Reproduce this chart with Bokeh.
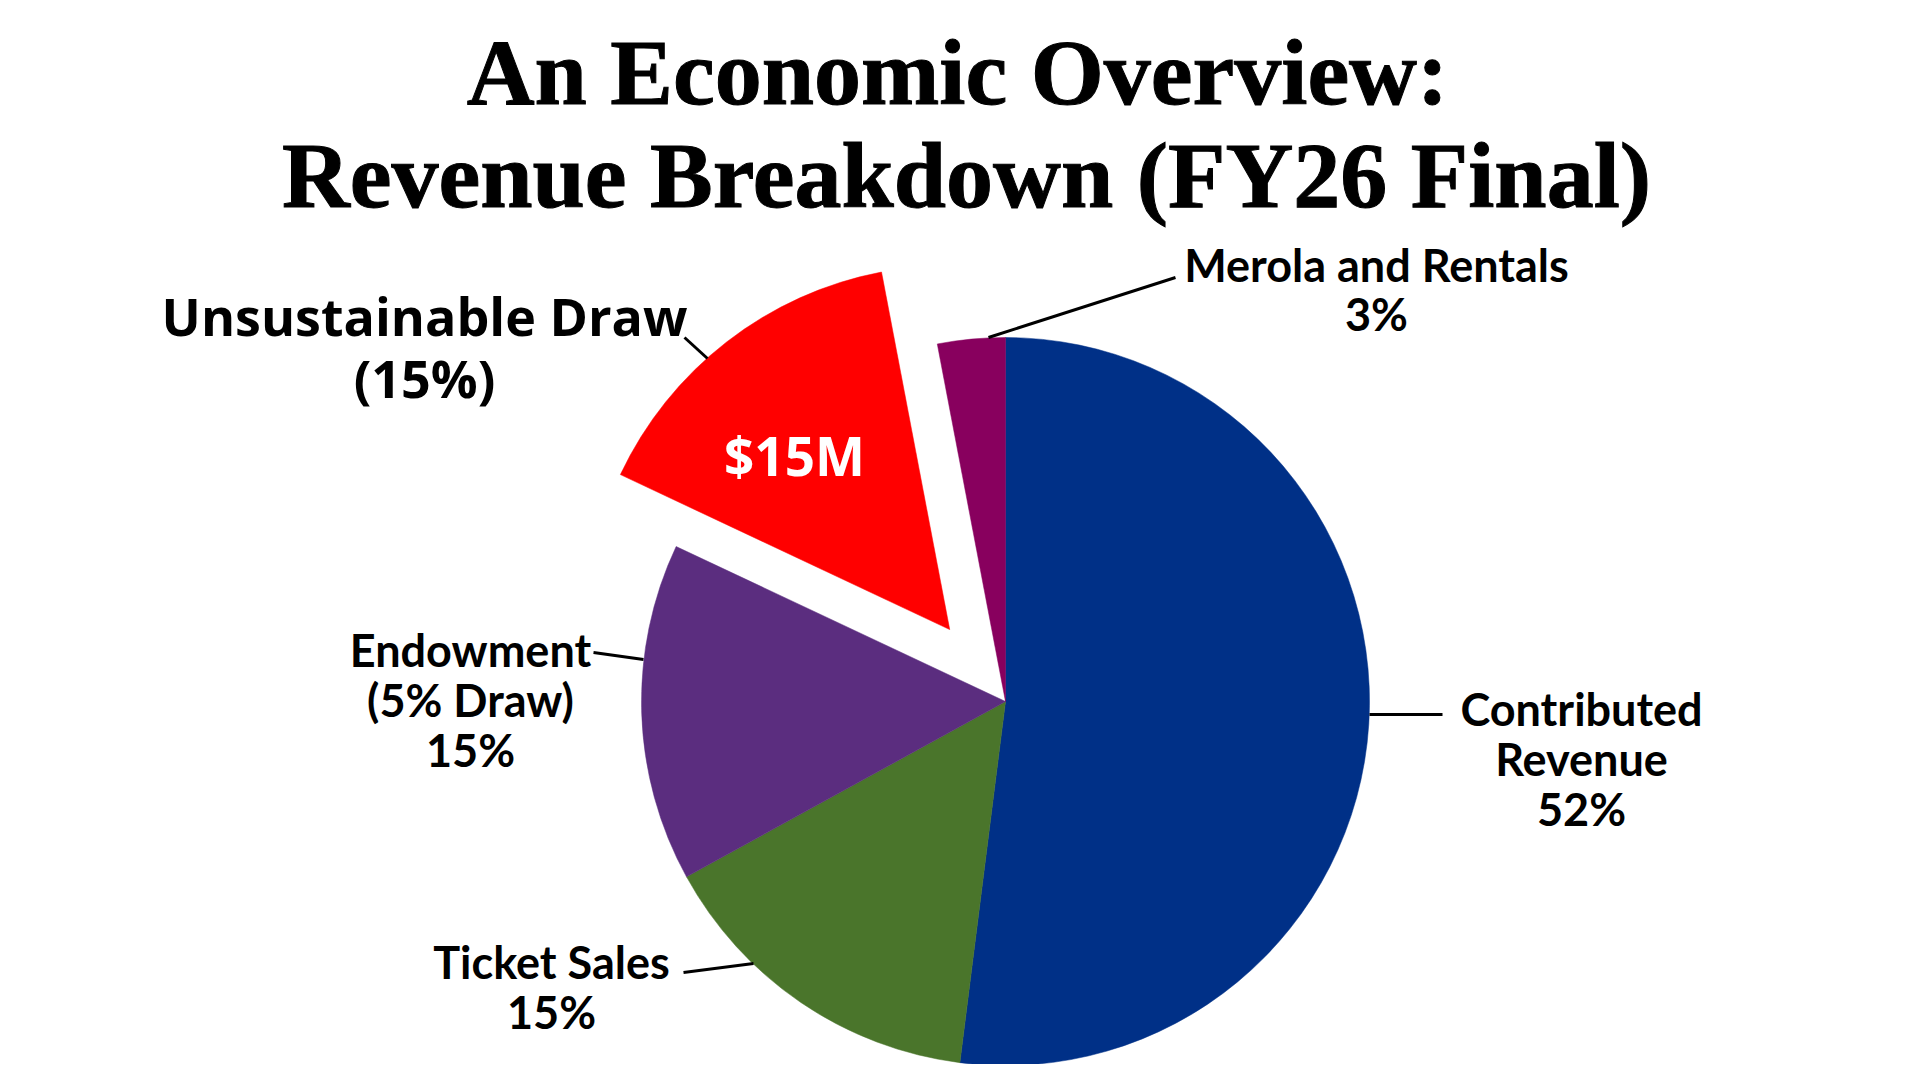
import numpy as np
from bokeh.plotting import figure
from bokeh.models import Range1d, ColumnDataSource
from bokeh.core.properties import value
from bokeh.embed import file_html
from bokeh.resources import INLINE

# ---- data ----
categories = ["Contributed Revenue", "Ticket Sales", "Endowment (5% Draw)",
              "Unsustainable Draw", "Merola and Rentals"]
shares = [52, 15, 15, 15, 3]
colors = ["#003087", "#4A752B", "#5B2D7F", "#FF0000", "#88005E"]
draw_amount = "$15M"
title_lines = ["An Economic Overview:", "Revenue Breakdown (FY26 Final)"]

# ---- layout (page pixel coordinates) ----
W, H = 1904, 1064
def Y(py):
    return H - py

cx, cy, R = 1005, Y(701), 364
explode = [0, 0, 0, 91, 0]

p = figure(width=W, height=H, x_range=Range1d(0, W), y_range=Range1d(0, H),
           output_backend="svg", toolbar_location=None, min_border=0)
p.axis.visible = False
p.grid.visible = False
p.outline_line_color = None
p.background_fill_color = "white"

# wedges: start at 12 o'clock, go clockwise
frac = np.array(shares, dtype=float) / sum(shares)
cum = np.concatenate([[0], np.cumsum(frac)])
a_start = np.pi / 2 - cum[1:] * 2 * np.pi
a_end = np.pi / 2 - cum[:-1] * 2 * np.pi
mid = (a_start + a_end) / 2
ex = np.array(explode, dtype=float)
xs = cx + ex * np.cos(mid)
ys = cy + ex * np.sin(mid)
src = ColumnDataSource(dict(x=xs, y=ys, s=a_start, e=a_end, c=colors, cat=categories))
p.wedge(x="x", y="y", radius=R, start_angle="s", end_angle="e", direction="anticlock",
        fill_color="c", line_color="c", line_width=0.5, source=src)

# leader lines
lead = [((988, 337), (1175, 277)),
        ((1369, 714), (1442, 714)),
        ((593, 652), (643, 659)),
        ((683, 972), (753, 963)),
        ((684, 337), (707, 358))]
p.segment(x0=[a[0] for a, b in lead], y0=[Y(a[1]) for a, b in lead],
          x1=[b[0] for a, b in lead], y1=[Y(b[1]) for a, b in lead],
          line_color="black", line_width=3)

def txt(lines, x, baselines, size, font="Lato", color="black", style="bold",
        adj=0, outline=None):
    shift = 12 + 0.23 * size - adj
    kw = {}
    if outline:
        kw["text_outline_color"] = outline
    p.text(x=[x] * len(lines), y=[Y(b - shift) for b in baselines], text=lines,
           text_font=value(font), text_font_size=f"{size}px", text_font_style=style,
           text_color=color, text_align="center", text_baseline="alphabetic", **kw)

# title
txt([title_lines[0]], 957, [103], 94, font="Liberation Serif", adj=2, outline="black")
txt([title_lines[1]], 966, [206], 94, font="Liberation Serif", adj=2, outline="black")

# labels
txt([categories[0].split(' ')[0], categories[0].split(' ')[1], f"{shares[0]}%"],
    1581, [727, 777, 827], 45, adj=4)
txt([categories[1], f"{shares[1]}%"], 551, [980, 1030], 45, adj=4)
txt(["Endowment", "(5% Draw)", f"{shares[2]}%"], 470, [667, 717, 767], 45, adj=5)
txt([categories[4], f"{shares[4]}%"], 1376, [282, 331], 45, adj=5)
txt([categories[3], f"({shares[3]}%)"], 424, [335, 397], 52, font="Open Sans", adj=4)
txt([draw_amount], 794, [474], 53, font="Open Sans", color="white", adj=5)

open("out.html", "w").write(file_html(p, INLINE))
